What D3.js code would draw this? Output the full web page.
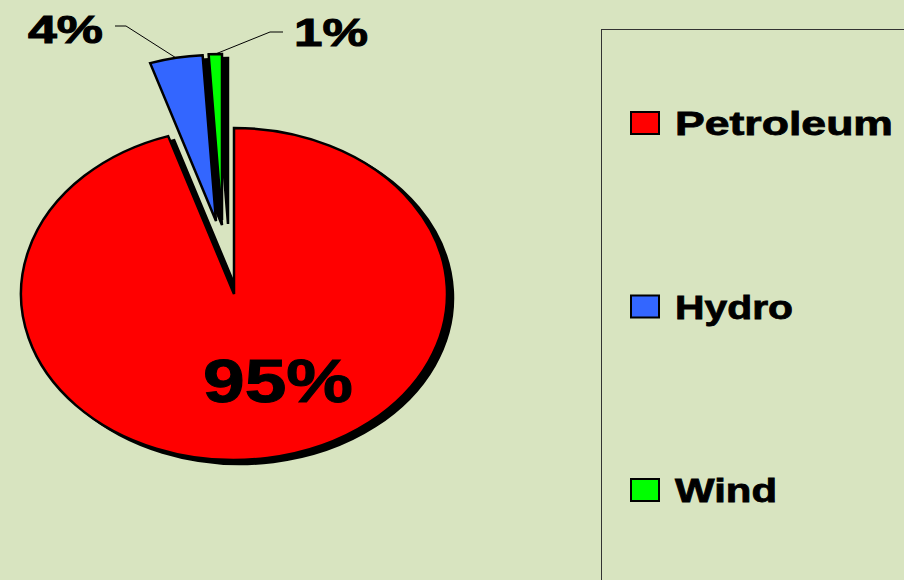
<!DOCTYPE html>
<html><head><meta charset="utf-8">
<script src="https://cdn.jsdelivr.net/npm/d3@7"></script>
<style>html,body{margin:0;padding:0;background:#D8E4C0;}svg{display:block;}</style>
</head><body>
<svg id="chart" width="904" height="580"></svg>
<script>
// ---- data ----
const categories = ["Petroleum", "Hydro", "Wind"];
const values = [95, 4, 1];
const colors = ["#FF0000", "#3366FF", "#00FF00"];

// ---- style ----
const W = 904, H = 580;
const cx = 234, cy = 294, rx = 213, ry = 166;
const explode = { Petroleum: [0, 0], Hydro: [-18, -73], Wind: [-12, -74] };
const shadow = [6, 4];
const font = "'Liberation Sans', Arial, sans-serif";

const svg = d3.select("#chart");
svg.append("rect").attr("width", W).attr("height", H).attr("fill", "#D8E4C0");

const total = d3.sum(values);
const data = categories.map((c, i) => ({ name: c, value: values[i], color: colors[i] }));
const pie = d3.pie().sort(null).value(d => d.value).startAngle(0).endAngle(2 * Math.PI);
const arcs = pie(data);
const arc = d3.arc().innerRadius(0).outerRadius(rx);
const sy = ry / rx;

function tf(d, extra) {
  const o = explode[d.data.name];
  return `translate(${cx + o[0] + extra[0]},${cy + o[1] + extra[1]}) scale(1,${sy})`;
}

// shadows
svg.append("g").selectAll("path").data(arcs).join("path")
  .attr("d", arc)
  .attr("transform", d => tf(d, shadow))
  .attr("fill", "#000").attr("stroke", "#000").attr("stroke-width", 2.5)
  .attr("vector-effect", "non-scaling-stroke");

// slices
svg.append("g").selectAll("path").data(arcs).join("path")
  .attr("d", arc)
  .attr("transform", d => tf(d, [0, 0]))
  .attr("fill", d => d.data.color).attr("stroke", "#000").attr("stroke-width", 2.5)
  .attr("stroke-linejoin", "miter")
  .attr("vector-effect", "non-scaling-stroke");

function outerPoint(d) {
  const a = (d.startAngle + d.endAngle) / 2;
  const o = explode[d.data.name];
  return [cx + o[0] + rx * Math.sin(a), cy + o[1] - ry * Math.cos(a)];
}
const pct = d => Math.round(d.value / total * 100) + "%";

// labels
const labelStyle = {
  Petroleum: { x: 203, y: 402, size: 61, len: 150 },
  Hydro: { x: 28, y: 43, size: 38, len: 75, leader: [[115, 26], [126, 26]] },
  Wind: { x: 294, y: 46, size: 39, len: 74, leader: [[283, 32], [270, 32]] }
};
arcs.forEach(d => {
  const s = labelStyle[d.data.name];
  if (s.leader) {
    const p = outerPoint(d);
    svg.append("polyline")
      .attr("points", [...s.leader, p].map(q => q.join(",")).join(" "))
      .attr("fill", "none").attr("stroke", "#000").attr("stroke-width", 1);
  }
  svg.append("text").attr("x", s.x).attr("y", s.y)
    .attr("font-family", font).attr("font-weight", "bold").attr("font-size", s.size)
    .attr("textLength", s.len).attr("lengthAdjust", "spacingAndGlyphs")
    .attr("stroke", "#000").attr("stroke-width", 1)
    .attr("fill", "#000").text(pct(d.data));
});

// legend
svg.append("rect").attr("x", 601.5).attr("y", 29.5).attr("width", 400).attr("height", 600)
  .attr("fill", "none").attr("stroke", "#333").attr("stroke-width", 1);
const legY = d3.scalePoint().domain(categories).range([135, 502]);
const legLen = { Petroleum: 218, Hydro: 118, Wind: 102 };
const lg = svg.append("g").selectAll("g").data(data).join("g")
  .attr("transform", d => `translate(0,${legY(d.name)})`);
lg.append("rect").attr("x", 631).attr("y", -23).attr("width", 28).attr("height", 22)
  .attr("fill", d => d.color).attr("stroke", "#000").attr("stroke-width", 2);
lg.append("text").attr("x", 675).attr("y", 0)
  .attr("font-family", font).attr("font-weight", "bold").attr("font-size", 33)
  .attr("textLength", d => legLen[d.name]).attr("lengthAdjust", "spacingAndGlyphs")
  .attr("stroke", "#000").attr("stroke-width", 0.8)
  .attr("fill", "#000").text(d => d.name);
</script>
</body></html>
